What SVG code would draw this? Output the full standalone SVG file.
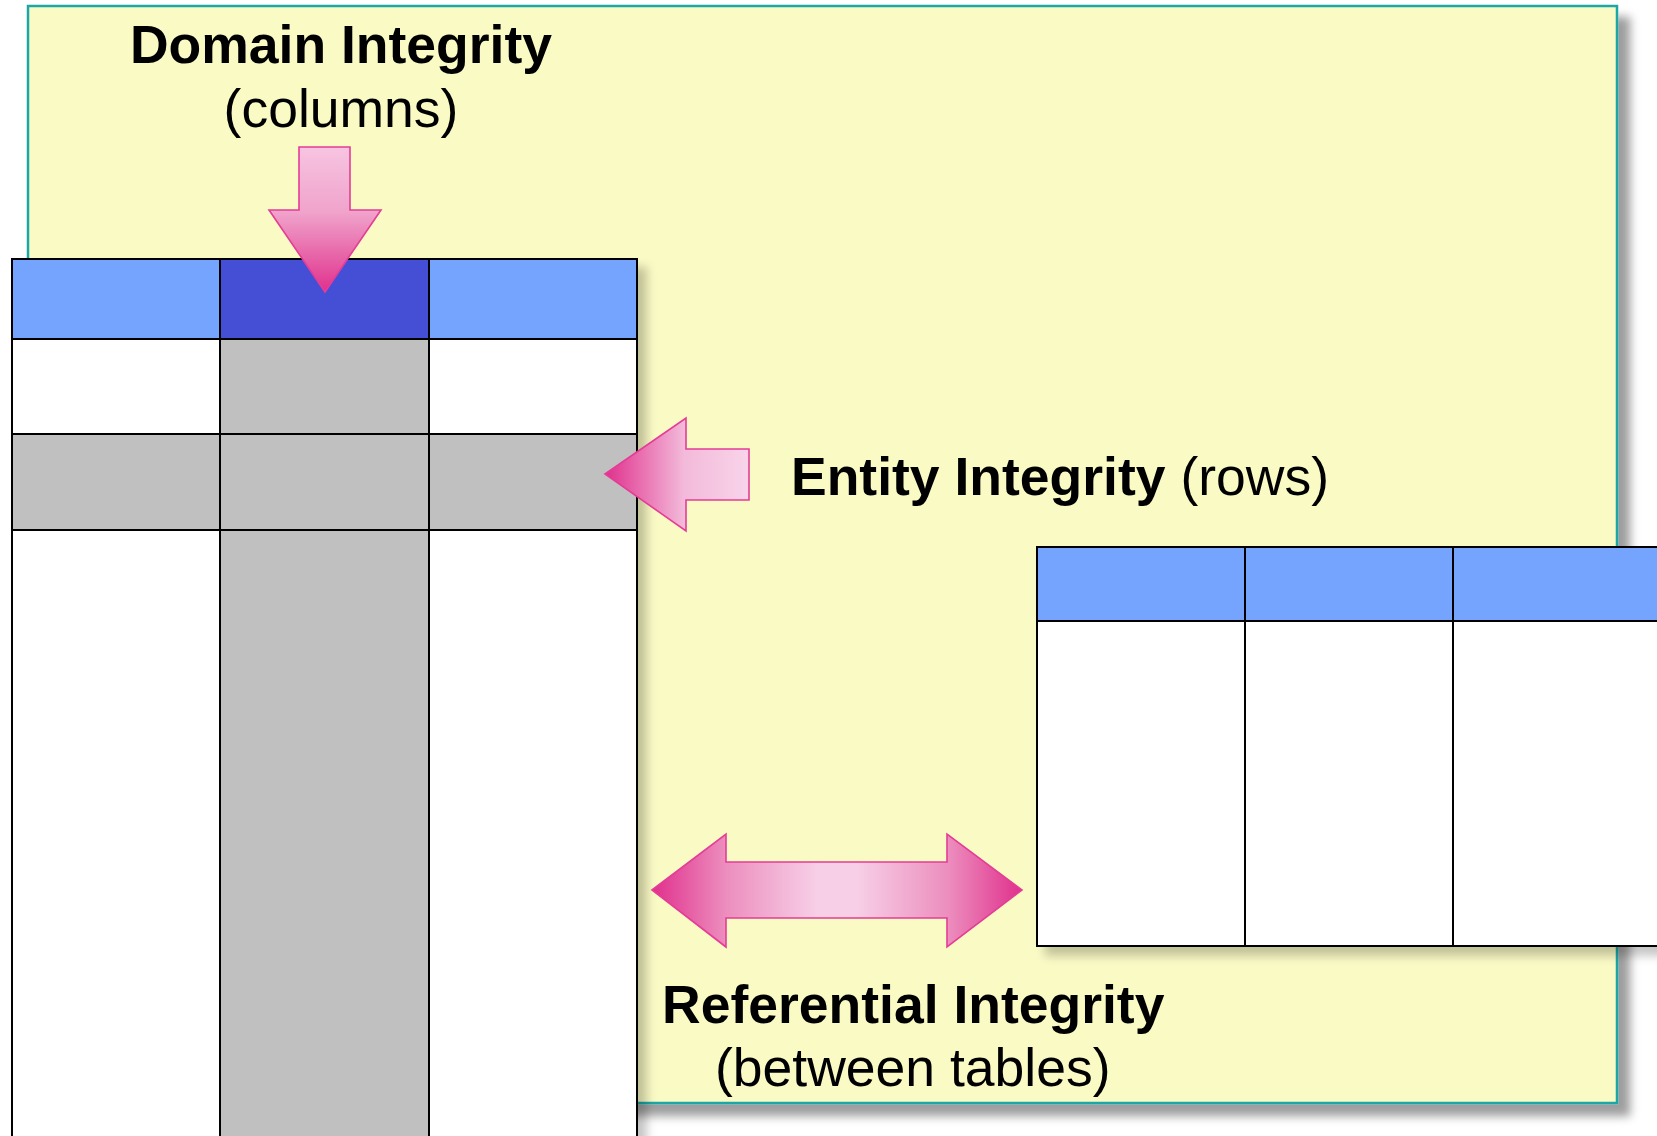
<svg xmlns="http://www.w3.org/2000/svg" width="1657" height="1136" viewBox="0 0 1657 1136">
  <defs>
    <style>
      .panel { fill: #FAFAC5; stroke: #1AA6A6; stroke-width: 2.5; }
      .grid { fill: none; stroke: #000; stroke-width: 2; }
      .hdr { fill: #75A4FE; }
      .hdr-sel { fill: #4450D6; }
      .cell { fill: #FFFFFF; }
      .sel { fill: #C0C0C0; }
      .arrow { stroke: #E43C97; stroke-width: 1.6; stroke-linejoin: miter; }
      .label { font-family: "Liberation Sans", Arial, Helvetica, sans-serif; font-size: 53.5px; fill: #000; }
      .b { font-weight: bold; }
    </style>
    <filter id="panelShadow" x="-5%" y="-5%" width="112%" height="112%">
      <feGaussianBlur in="SourceAlpha" stdDeviation="5"/>
      <feOffset dx="12" dy="12" result="blur"/>
      <feFlood flood-color="#000" flood-opacity="0.38"/>
      <feComposite in2="blur" operator="in"/>
      <feMerge><feMergeNode/><feMergeNode in="SourceGraphic"/></feMerge>
    </filter>
    <filter id="tableShadow" x="-5%" y="-5%" width="115%" height="115%">
      <feGaussianBlur in="SourceAlpha" stdDeviation="5"/>
      <feOffset dx="9" dy="9" result="blur"/>
      <feFlood flood-color="#000" flood-opacity="0.22"/>
      <feComposite in2="blur" operator="in"/>
      <feMerge><feMergeNode/><feMergeNode in="SourceGraphic"/></feMerge>
    </filter>
    <linearGradient id="gDown" x1="0" y1="147" x2="0" y2="292" gradientUnits="userSpaceOnUse">
      <stop offset="0" stop-color="#F7C4E1"/>
      <stop offset="0.45" stop-color="#F0A3CB"/>
      <stop offset="1" stop-color="#E0308C"/>
    </linearGradient>
    <linearGradient id="gLeft" x1="605" y1="0" x2="749" y2="0" gradientUnits="userSpaceOnUse">
      <stop offset="0" stop-color="#E0308C"/>
      <stop offset="0.55" stop-color="#F3BADA"/>
      <stop offset="1" stop-color="#F8D4E9"/>
    </linearGradient>
    <linearGradient id="gBoth" x1="652" y1="0" x2="1022" y2="0" gradientUnits="userSpaceOnUse">
      <stop offset="0" stop-color="#E0308C"/>
      <stop offset="0.2" stop-color="#EC8EBE"/>
      <stop offset="0.45" stop-color="#F7D0E7"/>
      <stop offset="0.55" stop-color="#F7D0E7"/>
      <stop offset="0.8" stop-color="#EC8EBE"/>
      <stop offset="1" stop-color="#E0308C"/>
    </linearGradient>
  </defs>

  <rect width="1657" height="1136" fill="#FFFFFF"/>

  <!-- background panel -->
  <g id="panel">
    <rect class="panel" x="28" y="6" width="1589" height="1097" filter="url(#panelShadow)"/>
  </g>

  <!-- main table: one highlighted column and one highlighted row -->
  <g id="table-main" filter="url(#tableShadow)">
    <rect class="cell" x="12" y="259" width="625" height="900"/>
    <rect class="hdr" x="12" y="259" width="625" height="80"/>
    <rect class="hdr-sel" x="220" y="259" width="209" height="80"/>
    <rect class="sel" x="220" y="339" width="209" height="820"/>
    <rect class="sel" x="12" y="434" width="625" height="96"/>
    <rect class="grid" x="12" y="259" width="625" height="900"/>
    <line class="grid" x1="220" y1="259" x2="220" y2="1159"/>
    <line class="grid" x1="429" y1="259" x2="429" y2="1159"/>
    <line class="grid" x1="12" y1="339" x2="637" y2="339"/>
    <line class="grid" x1="12" y1="434" x2="637" y2="434"/>
    <line class="grid" x1="12" y1="530" x2="637" y2="530"/>
  </g>

  <!-- related table -->
  <g id="table-related" filter="url(#tableShadow)">
    <rect class="cell" x="1037" y="547" width="640" height="399"/>
    <rect class="hdr" x="1037" y="547" width="640" height="74"/>
    <rect class="grid" x="1037" y="547" width="640" height="399"/>
    <line class="grid" x1="1245" y1="547" x2="1245" y2="946"/>
    <line class="grid" x1="1453" y1="547" x2="1453" y2="946"/>
    <line class="grid" x1="1037" y1="621" x2="1677" y2="621"/>
  </g>

  <!-- block arrows -->
  <g id="connectors">
    <polygon class="arrow" fill="url(#gDown)" points="299,147 350,147 350,210 381,210 325,292 269,210 299,210"/>
    <polygon class="arrow" fill="url(#gLeft)" points="605,474 686,418 686,449 749,449 749,500 686,500 686,531"/>
    <polygon class="arrow" fill="url(#gBoth)" points="652,890 726,834 726,862 947,862 947,834 1022,890 947,947 947,918 726,918 726,947"/>
  </g>

  <g id="label-domain">
    <text class="label b" x="341" y="63" text-anchor="middle">Domain Integrity</text>
    <text class="label" x="341" y="127" text-anchor="middle">(columns)</text>
  </g>
  <g id="label-entity">
    <text class="label" x="791" y="495"><tspan class="b">Entity Integrity</tspan> (rows)</text>
  </g>
  <g id="label-referential">
    <text class="label b" x="662" y="1023">Referential Integrity</text>
    <text class="label" x="715" y="1086">(between tables)</text>
  </g>
</svg>
